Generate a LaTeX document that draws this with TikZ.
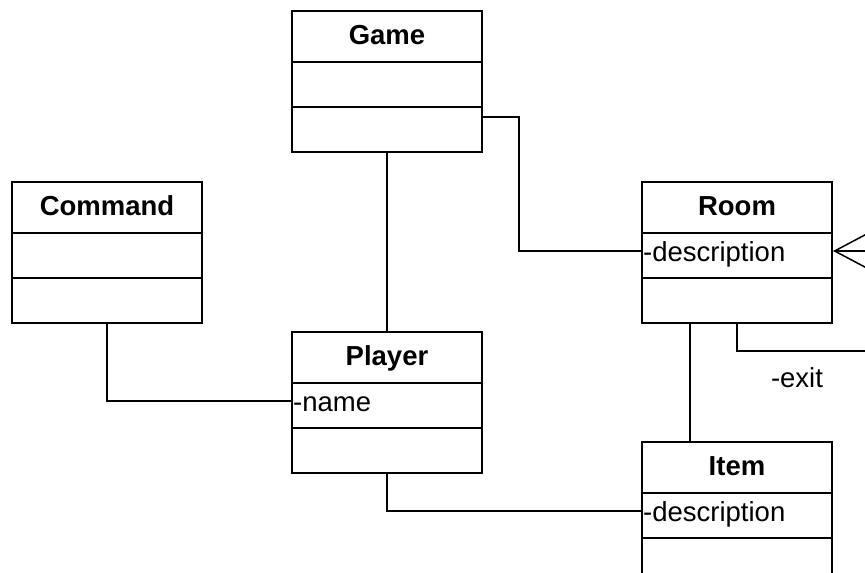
\documentclass[tikz,border=0pt]{standalone}
\usepackage{fontspec}
\setmainfont{Liberation Sans}
\usetikzlibrary{calc,arrows.meta}
\newcommand\umlfont{\fontsize{27.5}{33}\selectfont}
\tikzset{
  classbox/.style={draw, line width=2pt, minimum width=190pt, minimum height=141pt, inner sep=0pt},
  rowline/.style={line width=2pt},
  titletext/.style={font=\umlfont\bfseries, inner sep=0pt, anchor=base},
  attrtext/.style={font=\umlfont, inner sep=0pt, anchor=base west},
  conn/.style={line width=1.5pt},
}
\newcommand\umlclassbox[5]{%
  \node[classbox, anchor=north west] (#1) at (#2,#3) {};
  \node[titletext] (#1title) at ($(#1.north)+(0,34.5)$) {#4};
  \draw[rowline] ($(#1.north west)+(0,51.5)$) -- ($(#1.north east)+(0,51.5)$);
  \draw[rowline] ($(#1.north west)+(0,96.5)$) -- ($(#1.north east)+(0,96.5)$);
  \node[attrtext] (#1attr) at ($(#1.north west)+(2,80)$) {#5};
}
\begin{document}
\begin{tikzpicture}[x=1pt, y=-1pt, font=\umlfont]
\useasboundingbox (0,0) rectangle (865,573);
\clip (0,0) rectangle (865,573);
\umlclassbox{game}{291}{10}{Game}{}
\umlclassbox{command}{11}{181}{Command}{}
\umlclassbox{room}{641}{181}{Room}{-description}
\umlclassbox{player}{291}{331}{Player}{-name}
\umlclassbox{item}{641}{441}{Item}{-description}
% connectors
\draw[conn] (game.south) -- (player.north);
\draw[conn] ($(game.north east)+(0,107)$) -- ++(36,0) |- ($(room.north west)+(0,70)$);
\draw[conn] (command.south) |- ($(player.north west)+(0,70)$);
\draw[conn] (player.south) |- ($(item.north west)+(0,70)$);
\draw[conn] ($(room.south)+(-47,0)$) -- ($(item.north)+(-47,0)$);
\coordinate (exitend) at (880,351);
\coordinate (exitstart) at (880,251);
\draw[conn] (room.south) |- (exitend);
\draw[conn, -{Straight Barb[length=34pt, width=36pt, line width=1.5pt]}] (exitstart) -- ($(room.north east)+(0,70)$);
\node[font=\umlfont, inner sep=0pt, anchor=base] (exitlabel) at (797,387) {-exit};
\end{tikzpicture}
\end{document}
